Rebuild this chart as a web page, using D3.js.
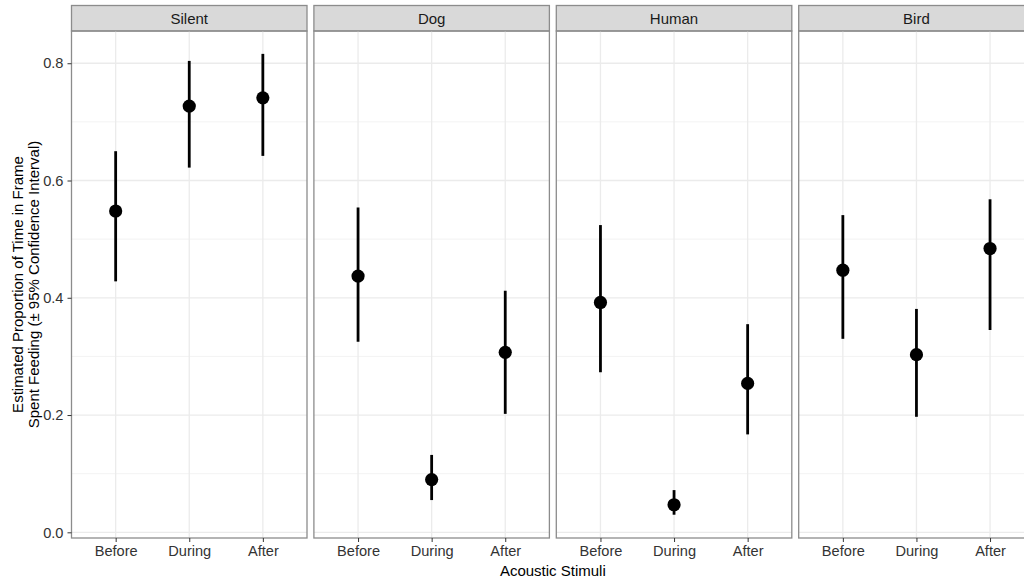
<!DOCTYPE html>
<html>
<head>
<meta charset="utf-8">
<script src="https://cdn.jsdelivr.net/npm/d3@7"></script>
<style>
    body { margin: 0; background: #fff; }
    svg { display: block; font-family: "Liberation Sans", Arial, sans-serif; }
</style>
</head>
<body>
<div id="chart"></div>
<script>
// Faceted point + CI chart: proportion of time feeding by acoustic stimulus

const stimuli = ['Silent', 'Dog', 'Human', 'Bird'];
const periods = ['Before', 'During', 'After'];

// estimates per stimulus, in period order
const estimate = {
    Silent: [0.548, 0.727, 0.741],
    Dog:    [0.437, 0.090, 0.307],
    Human:  [0.392, 0.047, 0.254],
    Bird:   [0.447, 0.303, 0.484]
};
const lower = {
    Silent: [0.428, 0.622, 0.642],
    Dog:    [0.325, 0.055, 0.202],
    Human:  [0.273, 0.030, 0.167],
    Bird:   [0.330, 0.197, 0.345]
};
const upper = {
    Silent: [0.650, 0.804, 0.816],
    Dog:    [0.554, 0.132, 0.412],
    Human:  [0.524, 0.072, 0.355],
    Bird:   [0.541, 0.381, 0.568]
};

const yMajor = [0, 0.2, 0.4, 0.6, 0.8];
const yMinor = [0.1, 0.3, 0.5, 0.7];

const W = 1024, H = 579;
const margin = { left: 71.5, top: 31, bottom: 41 };
const stripH = 25.5;
const panelW = 235.5;
const gap = 6.9;
const panelTop = margin.top;
const panelBottom = H - margin.bottom;

const svg = d3.select('#chart').append('svg')
    .attr('width', W)
    .attr('height', H);

// Scales
const y = d3.scaleLinear()
    .domain([-0.0097, 0.855])
    .range([panelBottom, panelTop]);

const x = d3.scalePoint()
    .domain(periods)
    .range([0, panelW])
    .padding(0.6);

const borderCol = '#8c8c8c';

stimuli.forEach((s, i) => {
    const left = margin.left + i * (panelW + gap);
    const g = svg.append('g')
        .attr('transform', `translate(${left},0)`);

    // Strip
    g.append('rect')
        .attr('x', 0)
        .attr('y', panelTop - stripH)
        .attr('width', panelW)
        .attr('height', stripH)
        .attr('fill', '#d9d9d9')
        .attr('stroke', borderCol)
        .attr('stroke-width', 1.3);

    g.append('text')
        .attr('x', panelW / 2)
        .attr('y', panelTop - stripH / 2)
        .attr('dy', '0.35em')
        .attr('text-anchor', 'middle')
        .style('font-size', '15px')
        .style('fill', '#1a1a1a')
        .text(s);

    // Grid lines
    g.selectAll('.minor')
        .data(yMinor)
        .enter().append('line')
        .attr('x1', 0).attr('x2', panelW)
        .attr('y1', d => y(d)).attr('y2', d => y(d))
        .attr('stroke', '#f2f2f2')
        .attr('stroke-width', 0.9);

    g.selectAll('.major-y')
        .data(yMajor)
        .enter().append('line')
        .attr('x1', 0).attr('x2', panelW)
        .attr('y1', d => y(d)).attr('y2', d => y(d))
        .attr('stroke', '#ebebeb')
        .attr('stroke-width', 1.3);

    g.selectAll('.major-x')
        .data(periods)
        .enter().append('line')
        .attr('x1', d => x(d)).attr('x2', d => x(d))
        .attr('y1', panelTop).attr('y2', panelBottom)
        .attr('stroke', '#ebebeb')
        .attr('stroke-width', 1.3);

    // Error bars and points
    const rows = periods.map((p, j) => ({
        period: p,
        est: estimate[s][j],
        lo: lower[s][j],
        hi: upper[s][j]
    }));

    g.selectAll('.ci')
        .data(rows)
        .enter().append('line')
        .attr('x1', d => x(d.period)).attr('x2', d => x(d.period))
        .attr('y1', d => y(d.lo)).attr('y2', d => y(d.hi))
        .attr('stroke', '#000')
        .attr('stroke-width', 2.8);

    g.selectAll('.pt')
        .data(rows)
        .enter().append('circle')
        .attr('cx', d => x(d.period))
        .attr('cy', d => y(d.est))
        .attr('r', 6.6)
        .attr('fill', '#000');

    // Panel border
    g.append('rect')
        .attr('x', 0)
        .attr('y', panelTop)
        .attr('width', panelW)
        .attr('height', panelBottom - panelTop)
        .attr('fill', 'none')
        .attr('stroke', borderCol)
        .attr('stroke-width', 1.3);

    // X axis
    const xAxis = g.append('g')
        .attr('transform', `translate(0,${panelBottom})`)
        .call(d3.axisBottom(x).tickSize(4).tickPadding(4));
    xAxis.select('.domain').remove();
    xAxis.selectAll('line').attr('stroke', '#333').attr('stroke-width', 1);
    xAxis.selectAll('text')
        .style('font-size', '14.6px')
        .style('font-family', '"Liberation Sans", Arial, sans-serif')
        .style('fill', '#333');

    // Y axis on first panel only
    if (i === 0) {
        const yAxis = g.append('g')
            .call(d3.axisLeft(y).tickValues(yMajor).tickFormat(d3.format('.1f')).tickSize(4).tickPadding(4));
        yAxis.select('.domain').remove();
        yAxis.selectAll('line').attr('stroke', '#333').attr('stroke-width', 1);
        yAxis.selectAll('text')
            .style('font-size', '14.6px')
            .style('font-family', '"Liberation Sans", Arial, sans-serif')
            .style('fill', '#333');
    }
});

// Axis titles
const panelsRight = margin.left + 4 * panelW + 3 * gap;

svg.append('text')
    .attr('x', (margin.left + panelsRight) / 2)
    .attr('y', 576)
    .attr('text-anchor', 'middle')
    .style('font-size', '15px')
    .text('Acoustic Stimuli');

const yMid = (panelTop + panelBottom) / 2;
const yTitle = svg.append('text')
    .attr('transform', `translate(0,${yMid}) rotate(-90)`)
    .attr('text-anchor', 'middle')
    .style('font-size', '15px');

yTitle.append('tspan')
    .attr('x', 0)
    .attr('y', 23)
    .text('Estimated Proportion of Time in Frame');

yTitle.append('tspan')
    .attr('x', 0)
    .attr('y', 38.5)
    .text('Spent Feeding (± 95% Confidence Interval)');
</script>
</body>
</html>
